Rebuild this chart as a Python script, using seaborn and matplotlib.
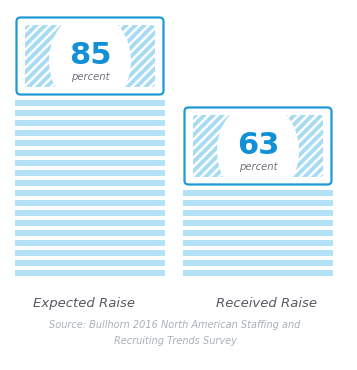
import matplotlib.pyplot as plt
import seaborn as sns
from matplotlib.patches import Rectangle, FancyBboxPatch, Ellipse

# data
categories = ['Expected Raise', 'Received Raise']
values = [85, 63]
unit_label = 'percent'
source_lines = ['Source: Bullhorn 2016 North American Staffing and',
                'Recruiting Trends Survey']

stripe_col = '#b3e1f6'
hatch_col = '#a6dbf3'
border_col = '#1d9ad6'
num_col = '#1190d6'

sns.set_theme(style='white')
plt.rcParams['font.family'] = ['DejaVu Sans']

W, H = 357, 370
fig = plt.figure(figsize=(W / 100, H / 100), dpi=100)
ax = fig.add_axes([0, (H - 276) / H, 1, 276 / H])
sns.barplot(x=categories, y=values, ax=ax, width=150 / 168, color=stripe_col)

s = 4.09          # pixels per value unit
y0 = 21.43        # value at bottom of stripes
ax.set_xlim(-90 / 168, 1 + 99 / 168)
ax.set_ylim(y0, y0 + 276 / s)
ax.axis('off')

px = 1 / s
badge_h = 80 * px
pitch, thick = 10 * px, 5.7 * px

label_dx = [-6 / 168, 9 / 168]

for i, bar in enumerate(list(ax.patches)):
    x, w, top = bar.get_x(), bar.get_width(), bar.get_height()
    bar.set_visible(False)

    # horizontal stripes make up the bar
    k = 0
    while y0 + k * pitch + thick <= top - badge_h - 3 * px:
        ax.add_patch(Rectangle((x, y0 + k * pitch), w, thick, color=stripe_col, lw=0))
        k += 1

    # badge on top of bar (pixel coords inside)
    bax = ax.inset_axes([x, top - badge_h, w, badge_h], transform=ax.transData)
    bax.set_xlim(0, 150)
    bax.set_ylim(0, 80)
    bax.axis('off')

    hatch = FancyBboxPatch((10, 9), 130, 62, boxstyle='round,pad=0,rounding_size=3',
                           fc=hatch_col, ec='none')
    bax.add_patch(hatch)
    for c in range(-90, 160, 9):
        ln, = bax.plot([c, c + 90], [0, 90], color='white', lw=1.8, solid_capstyle='butt')
        ln.set_clip_path(hatch)
    bax.add_patch(Ellipse((75, 35), 82, 99, fc='white', ec='none'))
    bax.add_patch(FancyBboxPatch((1.5, 1.5), 147, 77, boxstyle='round,pad=0,rounding_size=4',
                                 fc='none', ec=border_col, lw=1.6, clip_on=False))
    bax.text(75, 31.5, str(values[i]), ha='center', va='baseline', fontsize=22,
             fontweight='bold', color=num_col)
    bax.text(75, 15.5, unit_label, ha='center', va='baseline', fontsize=7.2,
             style='italic', color='#70737c')

    # category label under the bar
    fig.text((x + w / 2 + label_dx[i] - ax.get_xlim()[0]) * 168 / W, 1 - 307 / H,
             categories[i], ha='center', va='baseline', fontsize=9.5,
             style='italic', color='#555a62')

for j, line in enumerate(source_lines):
    fig.text(175 / W, 1 - (328 + 16 * j) / H, line, ha='center', va='baseline',
             fontsize=7.0, style='italic', color='#a9b0bd')

fig.savefig('out.png', dpi=100)
